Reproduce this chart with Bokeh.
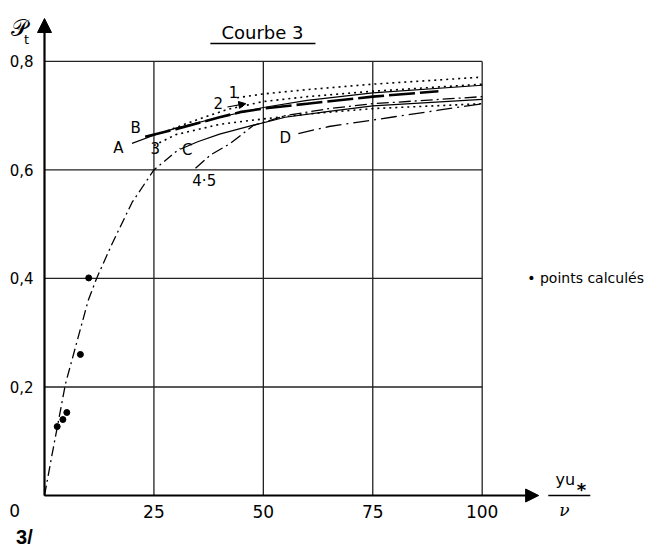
from bokeh.plotting import figure
from bokeh.models import Range1d, Label, Arrow, NormalHead, FixedTicker, LinearAxis
from bokeh.embed import file_html
from bokeh.resources import INLINE

# ---------------- data ----------------
x_ticks = [25, 50, 75, 100]
x_tick_labels = ["25", "50", "75", "100"]
y_ticks = [0.2, 0.4, 0.6, 0.8]
y_tick_labels = ["0,2", "0,4", "0,6", "0,8"]

main_x = [0, 1.6, 4.8, 10, 11.9, 15.5, 20, 25, 31]
main_y = [0, 0.07, 0.206, 0.36, 0.40, 0.465, 0.54, 0.60, 0.64]

c_x = [31, 35, 40, 47.5, 55, 65, 75, 100]
c_y = [0.638, 0.652, 0.666, 0.682, 0.697, 0.708, 0.718, 0.730]

a_x = [20, 25, 30, 40, 50, 60, 75, 100]
a_y = [0.649, 0.664, 0.677, 0.697, 0.715, 0.728, 0.742, 0.756]

b_x = [23, 30, 40, 45, 50, 60, 75, 90]
b_y = [0.661, 0.675, 0.697, 0.707, 0.713, 0.722, 0.735, 0.745]

c1_x = [44, 50, 60, 75, 100]
c1_y = [0.733, 0.740, 0.748, 0.758, 0.771]

c2_x = [28, 35, 42, 50, 60, 75, 100]
c2_y = [0.672, 0.693, 0.712, 0.726, 0.735, 0.745, 0.758]

c3_x = [25, 30, 40, 50, 60, 75, 100]
c3_y = [0.645, 0.665, 0.684, 0.694, 0.703, 0.713, 0.722]

c45_x = [34.5, 38, 42.5, 47.7, 55, 65, 75, 100]
c45_y = [0.603, 0.628, 0.649, 0.682, 0.700, 0.713, 0.722, 0.735]

d_x = [58, 65, 70, 80, 90, 100]
d_y = [0.667, 0.680, 0.686, 0.698, 0.710, 0.722]

pts_x = [2.9, 4.2, 5.1, 8.2, 10.1]
pts_y = [0.127, 0.140, 0.153, 0.260, 0.401]

FONT = "DejaVu Sans"

p = figure(width=653, height=547, output_backend="svg", toolbar_location=None,
           x_range=Range1d(-10.053, 139.14), y_range=Range1d(-0.0958, 0.9122),
           x_axis_location=None, y_axis_location=None,
           min_border_left=0, min_border_right=0, min_border_top=0,
           min_border_bottom=0)
p.outline_line_color = None
p.xgrid.visible = False
p.ygrid.visible = False

# axes fixed at the data origin
xax = LinearAxis(fixed_location=0, ticker=FixedTicker(ticks=x_ticks))
yax = LinearAxis(fixed_location=0, ticker=FixedTicker(ticks=y_ticks))
for ax in (xax, yax):
    ax.axis_line_color = None
    ax.major_tick_line_color = None
    ax.minor_tick_line_color = None
    ax.major_label_text_font = FONT
    ax.major_label_text_color = "black"
xax.major_label_overrides = {t: l for t, l in zip(x_ticks, x_tick_labels)}
xax.major_label_text_font_size = "17px"
xax.major_label_standoff = 3
yax.major_label_overrides = {t: l for t, l in zip(y_ticks, y_tick_labels)}
yax.major_label_text_font_size = "15px"
yax.major_label_standoff = 5
p.add_layout(xax, "below")
p.add_layout(yax, "left")

# grid lines (bounded to data box)
p.segment(x0=x_ticks, y0=[0] * 4, x1=x_ticks, y1=[0.8] * 4, line_color="#222222", line_width=1.3)
p.segment(x0=[0] * 4, y0=y_ticks, x1=[100] * 4, y1=y_ticks, line_color="#222222", line_width=1.3)

# axis arrows
p.add_layout(Arrow(end=NormalHead(size=14, fill_color="black", line_color="black"),
                   x_start=0, y_start=0, x_end=0, y_end=0.879, line_width=2.2))
p.add_layout(Arrow(end=NormalHead(size=13, fill_color="black", line_color="black"),
                   x_start=0, y_start=0, x_end=112.9, y_end=0, line_width=2.2))

# curves
p.line(main_x, main_y, line_color="black", line_width=1.3, line_dash="10 4 2 4")
p.line(c_x, c_y, line_color="black", line_width=1.2)
p.line(a_x, a_y, line_color="black", line_width=1.2)
p.line(b_x, b_y, line_color="black", line_width=2.6, line_dash="26 5")
p.line(c1_x, c1_y, line_color="black", line_width=1.6, line_dash="2 4")
p.line(c2_x, c2_y, line_color="black", line_width=1.6, line_dash="2 4")
p.line(c3_x, c3_y, line_color="black", line_width=1.6, line_dash="2 4")
p.line(c45_x, c45_y, line_color="black", line_width=1.3, line_dash="12 4 2 4")
p.line(d_x, d_y, line_color="black", line_width=1.3, line_dash="16 5 2 5")

p.scatter(pts_x, pts_y, size=6, color="black")

# arrow for label 2
p.add_layout(Arrow(end=NormalHead(size=7, fill_color="black", line_color="black"),
                   x_start=41.8, y_start=0.716, x_end=46.0, y_end=0.722, line_width=1.2))


def lab(x, y, t, size="15px", align="center", base="middle", font=FONT, style="normal"):
    p.add_layout(Label(x=x, y=y, text=t, text_font=font, text_font_size=size,
                       text_align=align, text_baseline=base, text_color="black",
                       text_font_style=style))


# curve labels
lab(16.9, 0.640, "A")
lab(20.8, 0.678, "B")
lab(25.3, 0.640, "3")
lab(32.6, 0.636, "C")
lab(36.5, 0.580, "4·5")
lab(55.0, 0.658, "D")
lab(43.2, 0.743, "1")
lab(39.7, 0.723, "2")

# title
lab(49.8, 0.8525, "Courbe 3", size="18px")
p.segment(x0=[37.9], y0=[0.833], x1=[61.9], y1=[0.833], line_color="black", line_width=1.3)

# legend text
lab(110.3, 0.40, "• points calculés", size="14px", align="left")

# axis labels
lab(-5.6, 0.862, "𝒫", size="23px")
lab(-4.1, 0.840, "t", size="13px")
lab(119.0, 0.0295, "yu", size="16px")
lab(122.7, 0.011, "*", size="18px", style="bold")
p.segment(x0=[115.1], y0=[0.0], x1=[124.7], y1=[0.0], line_color="black", line_width=1.3)
lab(118.8, -0.026, "ν", size="17px", font="DejaVu Serif", style="italic")

# origin and figure number
lab(-6.8, -0.028, "0", size="17px")
lab(-4.6, -0.076, "3/", size="20px", font="Liberation Sans", style="bold")

open("out.html", "w").write(file_html(p, INLINE))
